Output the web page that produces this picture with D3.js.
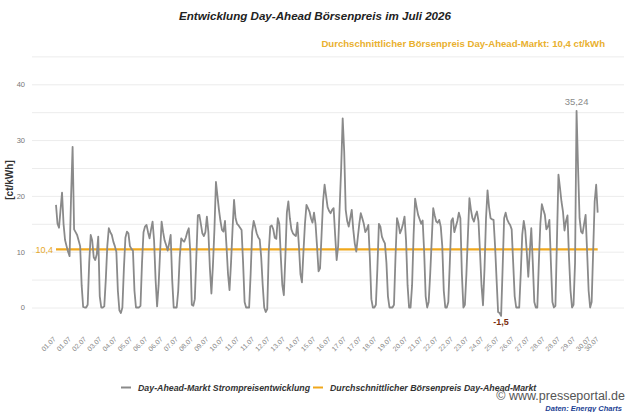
<!DOCTYPE html>
<html>
<head>
<meta charset="utf-8">
<script src="https://cdn.jsdelivr.net/npm/d3@7"></script>
<style>
  body { margin: 0; background: #fff; }
  svg { font-family: Arial, "Liberation Sans", sans-serif; }
</style>
</head>
<body>
<svg id="chart" width="630" height="412"></svg>
<script>
/* Day-ahead prices, ct/kWh, read every 2 hours (00, 02, ... 22 h) for 01.07 - 30.07 */
var sampleHours = [0, 2, 4, 6, 8, 10, 12, 14, 16, 18, 20, 22];
var dayPrices = [
  [18.4, 15, 14.3, 17.5, 20.6, 15, 12.1, 11, 10, 9.2, 20, 28.8],     // 01.07
  [14, 13.5, 13, 12, 11, 4, 0.1, 0, 0, 0.5, 8, 13],                   // 02.07
  [12, 9, 8.5, 9.5, 12.7, 2, 0, 0, 0.2, 5, 11, 14.2],                 // 03.07
  [13.5, 13, 11.8, 11, 10, 3, -0.5, -1, 0, 7, 12.5, 13.6],            // 04.07
  [13.3, 11, 10.5, 10.2, 3, 0, 0, 0, 0.3, 8, 13.5, 14.5],             // 05.07
  [14.8, 13.5, 12.4, 14, 15.4, 12, 5, 0.2, 4, 10, 15.4, 13.5],        // 06.07
  [12, 11.2, 10.2, 11.5, 13, 5, 0, 0, 0, 3, 9, 12.4],                 // 07.07
  [12, 11.8, 12.5, 13.5, 14.2, 10, 0.5, 0.3, 1.5, 9, 16.5, 16.6],     // 08.07
  [15, 13.3, 12.8, 13.5, 16.3, 13.5, 7, 2.5, 7.5, 14, 22.5, 20],      // 09.07
  [17.5, 15.5, 13.9, 13.6, 15.5, 11, 6, 3.1, 8, 14, 19.3, 16],        // 10.07
  [15, 14.7, 14.3, 13.9, 8, 1, 0, 0, 0, 6, 13.5, 15.5],               // 11.07
  [14.5, 13.3, 12.6, 12.2, 9, 4, 0, -0.8, -0.3, 10, 14.5, 14.7],      // 12.07
  [14, 12.5, 12.3, 16, 15, 9, 4, 2.2, 9, 17, 19, 16],                 // 13.07
  [14, 13.3, 13, 12.8, 15.2, 11, 6, 4.5, 10, 15, 18.4, 17.8],         // 14.07
  [17.2, 16, 15.2, 17, 15, 11, 6.5, 7, 13, 19, 22, 20],               // 15.07
  [18, 17.3, 16.9, 17.5, 17.8, 13, 8.5, 11, 18, 25, 33.9, 28],        // 16.07
  [17.5, 15.5, 14.5, 16, 17.5, 14, 11.5, 10, 12.5, 15, 16.9, 16],     // 17.07
  [15, 13.5, 14, 14.8, 9, 1.5, 0, 0, 0.5, 7, 15, 14.5],               // 18.07
  [12.7, 12, 11.5, 8, 2, 0, 0, 0, 0.5, 9, 16, 15],                    // 19.07
  [13.3, 14, 15, 16.3, 12, 4, 0, 0, 4, 13, 19.5, 18],                 // 20.07
  [16.6, 15.8, 15, 15.6, 10, 2, 0, 1, 6, 12, 17.8, 16.5],             // 21.07
  [15.4, 15.2, 15.7, 14.5, 11, 3, 0, 0, 1, 8, 15.5, 16],              // 22.07
  [13.5, 14.5, 15.5, 17, 16, 6, 0, 0.5, 6, 13, 19.6, 17.5],           // 23.07
  [16, 15.4, 16.5, 17.2, 15.5, 10, 4, 0.4, 7, 16, 21, 18],            // 24.07
  [16, 15.8, 15.7, 11, 5, -0.8, -1, -1.5, 7, 16, 17, 15.8],           // 25.07
  [15.2, 14.8, 14, 8, 2, 0, 0, 0, 6, 13, 15.5, 13.8],                 // 26.07
  [10, 5.5, 10, 14.2, 8, 1, 0, 0, 8, 15, 18.5, 17.5],                 // 27.07
  [16.6, 14, 14.5, 15.7, 8, 1, 0, 0.3, 12, 23.8, 21.5, 19],           // 28.07
  [17.2, 13.8, 15.5, 16.5, 9, 3, 0, 0.5, 8, 35.24, 25, 16],           // 29.07
  [13.6, 13.3, 15, 16.6, 10, 3, 0, 1, 10, 19, 22, 17]                 // 30.07
];
var avgPrice = 10.4;

var xTickLabels = ["01.07", "01.07", "02.07", "03.07", "04.07", "05.07", "06.07", "06.07",
  "07.07", "08.07", "09.07", "10.07", "11.07", "11.07", "12.07", "13.07", "14.07", "15.07",
  "16.07", "17.07", "17.07", "18.07", "19.07", "20.07", "21.07", "22.07", "22.07", "23.07",
  "24.07", "25.07", "26.07", "27.07", "28.07", "28.07", "29.07", "30.07", "30.07"];
var tickStepHours = 20.25;
var yGridValues = [0, 5, 10, 15, 20, 25, 30, 35, 40, 45];

var startDate = new Date(2026, 6, 1, 0, 0);
var endDate = new Date(2026, 6, 30, 23, 45);

var lineColor = "#8a8a8a";
var avgColor = "#f0a81c";

/* Format Data */
var data = [];
dayPrices.forEach(function(day, d) {
  day.forEach(function(v, i) {
    data.push({date: new Date(2026, 6, d + 1, sampleHours[i]), price: v});
  });
});

/* Scale */
var xScale = d3.scaleTime()
  .domain([startDate, endDate])
  .range([56, 599]);

var yScale = d3.scaleLinear()
  .domain([0, 45])
  .range([307.5, 56.4]);

var svg = d3.select("#chart");

/* Titles */
svg.append("text")
  .attr("x", 315).attr("y", 20)
  .attr("text-anchor", "middle")
  .style("font-size", "11.6px").style("font-weight", "bold").style("font-style", "italic")
  .attr("fill", "#222")
  .text("Entwicklung Day-Ahead Börsenpreis im Juli 2026");

svg.append("text")
  .attr("x", 605).attr("y", 47)
  .attr("text-anchor", "end")
  .style("font-size", "9.6px").style("font-weight", "bold")
  .attr("fill", "#e9b02e")
  .text("Durchschnittlicher Börsenpreis Day-Ahead-Markt: " + String(avgPrice).replace(".", ",") + " ct/kWh");

/* Y axis with grid */
var yAxis = d3.axisLeft(yScale)
  .tickValues(yGridValues)
  .tickSize(-592)
  .tickPadding(7)
  .tickFormat(d => d % 10 === 0 ? d : "");

var gy = svg.append("g")
  .attr("class", "y axis")
  .attr("transform", "translate(32,0)")
  .call(yAxis);
gy.select(".domain").remove();
gy.selectAll("line").attr("stroke", "#ececec");
gy.selectAll("text")
  .attr("fill", "#777")
  .style("font-size", "7.5px");

svg.append("text")
  .attr("transform", "translate(13,180) rotate(-90)")
  .attr("text-anchor", "middle")
  .style("font-size", "10px").style("font-weight", "bold")
  .attr("fill", "#333")
  .text("[ct/kWh]");

/* X axis labels */
var tickDates = xTickLabels.map(function(l, i) {
  if (i === xTickLabels.length - 1) return endDate;
  return new Date(startDate.getTime() + i * tickStepHours * 3600 * 1000);
});

var xAxis = d3.axisBottom(xScale)
  .tickValues(tickDates)
  .tickSize(0)
  .tickFormat((d, i) => xTickLabels[i]);

var gx = svg.append("g")
  .attr("class", "x axis")
  .attr("transform", "translate(0,338)")
  .call(xAxis);
gx.select(".domain").remove();
gx.selectAll("text")
  .attr("x", 0).attr("y", 0).attr("dy", "0.35em")
  .attr("text-anchor", "end")
  .attr("transform", "translate(-2,0) rotate(-45)")
  .attr("fill", "#888")
  .style("font-size", "6.8px");

/* Average line */
svg.append("line")
  .attr("x1", xScale(startDate)).attr("x2", xScale(data[data.length - 1].date))
  .attr("y1", yScale(avgPrice)).attr("y2", yScale(avgPrice))
  .attr("stroke", avgColor)
  .attr("stroke-width", 2.2);

svg.append("text")
  .attr("x", xScale(startDate) - 3).attr("y", yScale(avgPrice) + 3.5)
  .attr("text-anchor", "end")
  .style("font-size", "9px")
  .attr("fill", "#e6a82c")
  .text(String(avgPrice).replace(".", ","));

/* Price line */
var line = d3.line()
  .x(d => xScale(d.date))
  .y(d => yScale(d.price));

svg.append("path")
  .datum(data)
  .attr("fill", "none")
  .attr("stroke", lineColor)
  .attr("stroke-width", 1.8)
  .attr("stroke-linejoin", "round")
  .attr("d", line);

/* Max / min annotations */
var maxPt = data.reduce((a, b) => b.price > a.price ? b : a);
var minPt = data.reduce((a, b) => b.price < a.price ? b : a);

svg.append("text")
  .attr("x", xScale(maxPt.date)).attr("y", yScale(maxPt.price) - 6)
  .attr("text-anchor", "middle")
  .style("font-size", "9.5px")
  .attr("fill", "#8a8a8a")
  .text(String(maxPt.price).replace(".", ","));

svg.append("text")
  .attr("x", xScale(minPt.date)).attr("y", yScale(minPt.price) + 9.5)
  .attr("text-anchor", "middle")
  .style("font-size", "9px").style("font-weight", "bold")
  .attr("fill", "#7b2c0c")
  .text(String(minPt.price).replace(".", ","));

/* Legend */
var legend = svg.append("g").attr("class", "legend");
var legendItems = [
  {label: "Day-Ahead-Markt Strompreisentwicklung", color: lineColor, x: 121},
  {label: "Durchschnittlicher Börsenpreis Day-Ahead-Markt", color: avgColor, x: 313}
];
legendItems.forEach(function(d) {
  legend.append("line")
    .attr("x1", d.x).attr("x2", d.x + 10)
    .attr("y1", 387.5).attr("y2", 387.5)
    .attr("stroke", d.color).attr("stroke-width", 2);
  legend.append("text")
    .attr("x", d.x + 17).attr("y", 390.5)
    .style("font-size", "8.8px").style("font-weight", "bold").style("font-style", "italic")
    .attr("fill", "#333")
    .text(d.label);
});

/* Source */
svg.append("text")
  .attr("x", 625).attr("y", 400)
  .attr("text-anchor", "end")
  .style("font-size", "12.5px")
  .attr("fill", "#555")
  .text("© www.presseportal.de");

svg.append("text")
  .attr("x", 622).attr("y", 410.5)
  .attr("text-anchor", "end")
  .style("font-size", "7.5px").style("font-weight", "bold").style("font-style", "italic")
  .attr("fill", "#1c3f94")
  .text("Daten: Energy Charts");
</script>
</body>
</html>
